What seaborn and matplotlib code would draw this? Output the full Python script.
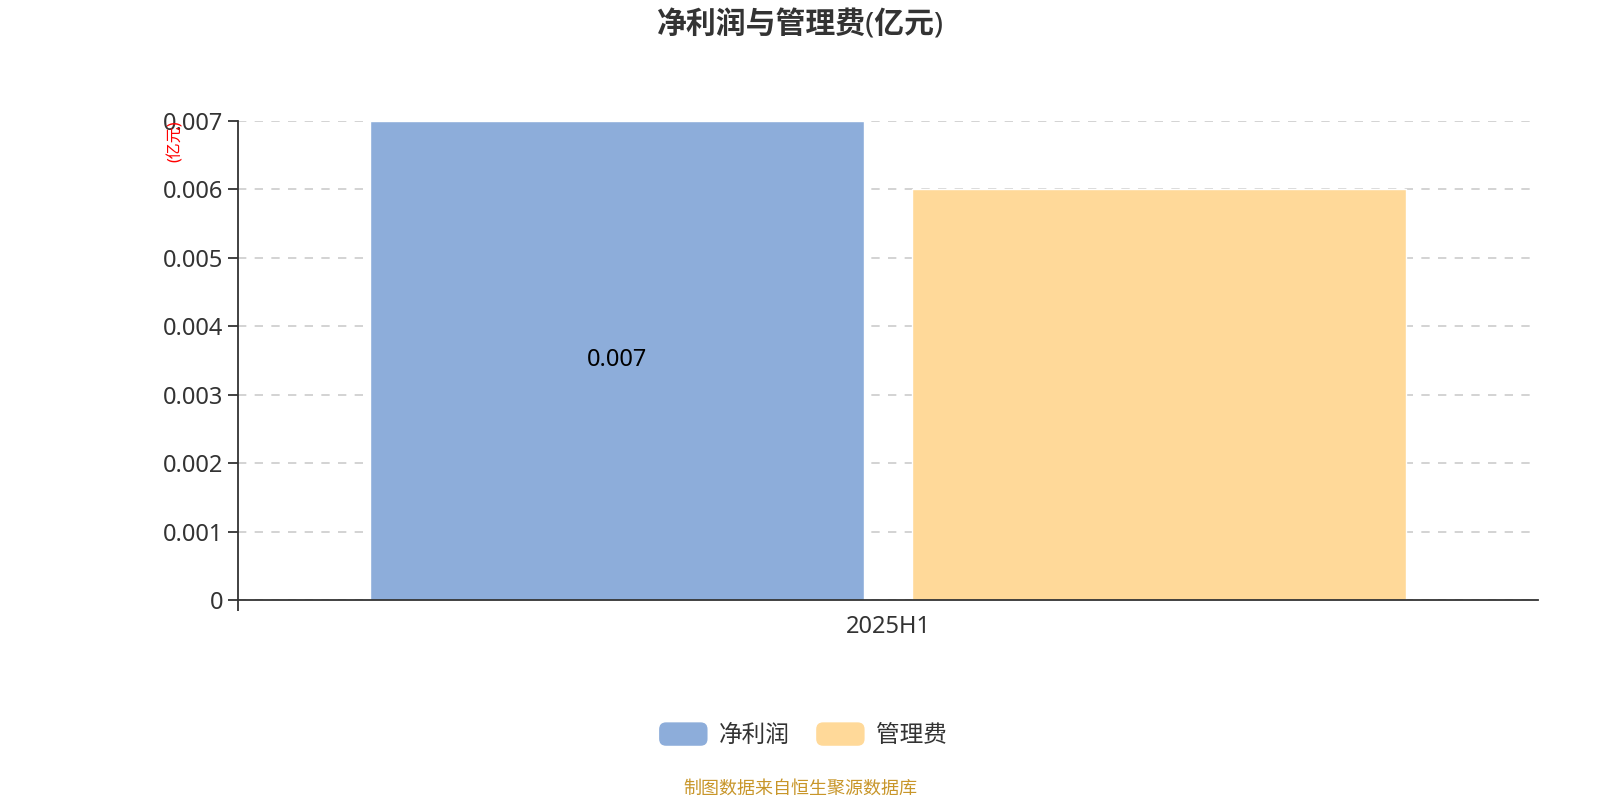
import matplotlib
matplotlib.use("Agg")
import matplotlib.pyplot as plt
import pandas as pd
import seaborn as sns
from matplotlib.patches import FancyBboxPatch, Patch
from matplotlib.legend_handler import HandlerPatch

# 数据
periods = ["2025H1"]
series_names = ["净利润", "管理费"]
values = [0.007, 0.006]
bar_labels = ["0.007"]
colors = ["#8DADDA", "#FFD999"]
y_ticks = [0, 0.001, 0.002, 0.003, 0.004, 0.005, 0.006, 0.007]
y_tick_labels = ["0", "0.001", "0.002", "0.003", "0.004", "0.005", "0.006", "0.007"]

df = pd.DataFrame({
    "period": periods * len(series_names),
    "series": series_names,
    "value": values,
})

sns.set_style("white")
plt.rcParams["font.family"] = ["Noto Sans", "Noto Sans CJK SC", "DejaVu Sans"]

fig = plt.figure(figsize=(16, 8), dpi=100)
ax = fig.add_axes([0.149, 0.25, 0.812, 0.599])

sns.barplot(data=df, x="period", y="value", hue="series", palette=colors,
            width=0.835, gap=0.09, ax=ax, legend=False, saturation=1)

# 柱内标签 (只标第一个系列)
ax.bar_label(ax.containers[0], labels=bar_labels, label_type="center",
             fontsize=17, color="#000000")

ax.set_xlim(-0.5, 0.5)
ax.set_ylim(0, 0.007)
ax.set_yticks(y_ticks)
ax.set_yticklabels(y_tick_labels)
ax.set_xlabel("")
ax.set_ylabel("")

ax.yaxis.grid(True, linestyle=(0, (5, 5)), color="#cccccc", linewidth=1.2)
ax.xaxis.grid(False)
ax.set_axisbelow(True)

for side in ["top", "right"]:
    ax.spines[side].set_visible(False)
for side in ["left", "bottom"]:
    ax.spines[side].set_color("#333333")
    ax.spines[side].set_linewidth(1.3)

ax.tick_params(axis="y", length=7, width=1.3, color="#333333",
               labelsize=17, labelcolor="#333333", pad=4, left=True)
ax.tick_params(axis="x", which="major", length=0, labelsize=17,
               labelcolor="#333333", pad=11)
ax.set_xticks([-0.5], minor=True)
ax.tick_params(axis="x", which="minor", length=8, width=1.3, color="#333333",
               bottom=True)

# 标题
fig.text(0.5, 0.968, "净利润与管理费(亿元)", ha="center", va="center",
         fontsize=21.5, fontweight="bold", color="#333333")

# 单位
fig.text(0.110, 0.849, "(亿元)", rotation=90, ha="center", va="top",
         fontsize=11.5, color="#ff0000")


class RoundHandler(HandlerPatch):
    def create_artists(self, legend, orig_handle, xdescent, ydescent,
                       width, height, fontsize, trans):
        p = FancyBboxPatch((-xdescent, -ydescent), width, height,
                           boxstyle="round,pad=0,rounding_size=5",
                           facecolor=orig_handle.get_facecolor(),
                           edgecolor="none", transform=trans)
        return [p]


handles = [Patch(facecolor=c, label=n) for c, n in zip(colors, series_names)]
fig.legend(handles=handles, loc="center", bbox_to_anchor=(0.502, 0.081),
           ncol=2, frameon=False, fontsize=17, labelcolor="#333333",
           handlelength=2.05, handleheight=1.15, handletextpad=0.5,
           columnspacing=1.1,
           handler_map={Patch: RoundHandler()})

# 来源
fig.text(0.5, 0.014, "制图数据来自恒生聚源数据库", ha="center", va="center",
         fontsize=13, color="#C8962A")

fig.savefig("out.png", dpi=100)
